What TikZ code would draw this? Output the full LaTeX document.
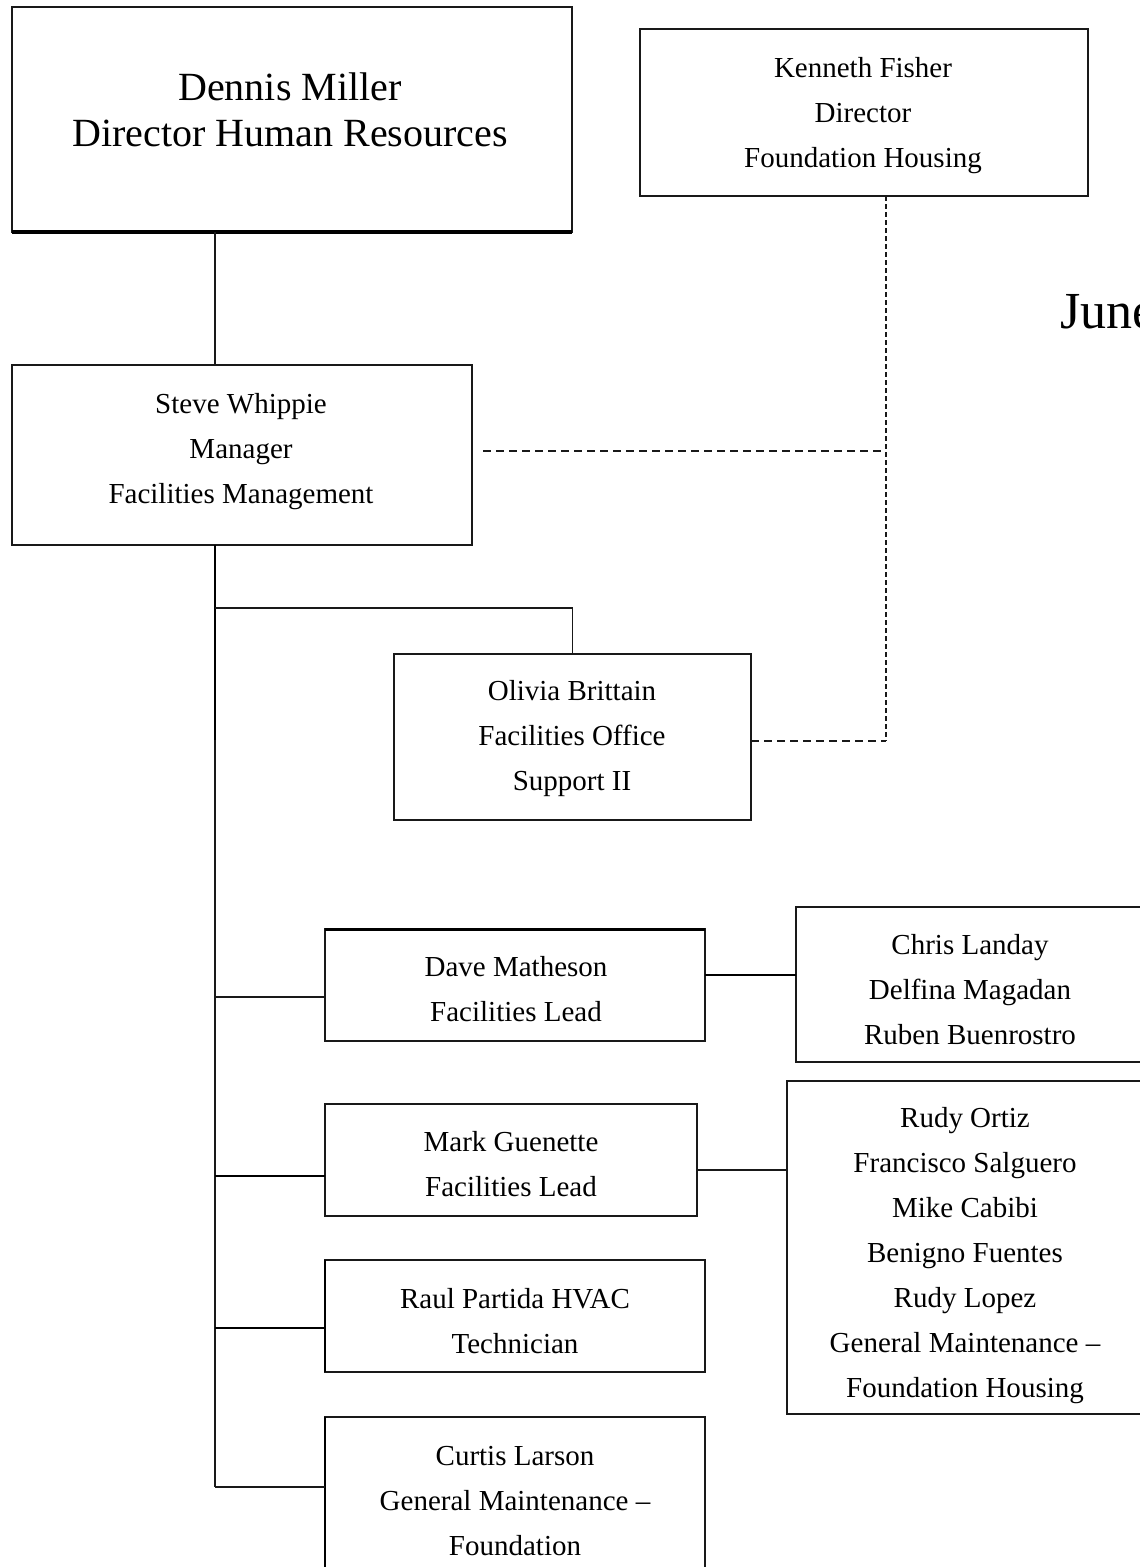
\documentclass[tikz,border=0pt]{standalone}
\usepackage{fontspec}
\setmainfont{Liberation Serif}
\usetikzlibrary{calc}

\tikzset{
  box/.style={rectangle, draw=black!90, line width=1.6bp, inner sep=0pt, outer sep=0pt, fill=white},
  lbl/.style={align=center, inner sep=0pt, font=\fontsize{29bp}{45bp}\selectfont},
  biglbl/.style={align=center, inner sep=0pt, font=\fontsize{40bp}{46bp}\selectfont},
  link/.style={line width=1.6bp, draw=black!90},
  heavylink/.style={line width=2.8bp, draw=black},
  hdash/.style={line width=1.6bp, draw=black!90, dash pattern=on 8bp off 5bp},
  vdash/.style={line width=2.4bp, draw=black!90, dash pattern=on 5bp off 3bp},
}

\begin{document}
\begin{tikzpicture}[x=1bp,y=-1bp]
\useasboundingbox (0,0) rectangle (1139,1567);
\fill[white] (0,0) rectangle (1139,1567);

% reference columns for the trunk line and the dotted-line report
\coordinate (tx) at (215,0);
\coordinate (dx) at (886,0);
\coordinate (oy) at (0,608);
\coordinate (ty) at (0,740);

% boxes
\node[box, minimum width=560bp, minimum height=225bp] (dm) at (292,119.5) {};
\node[box, minimum width=448bp, minimum height=167bp] (kf) at (864,112.5) {};
\node[box, minimum width=460bp, minimum height=180bp] (sw) at (242,455) {};
\node[box, minimum width=357bp, minimum height=166bp] (ob) at (572.5,737) {};
\node[box, minimum width=380bp, minimum height=112bp] (dv) at (515,985) {};
\node[box, minimum width=348bp, minimum height=155bp] (cl) at (970,984.5) {};
\node[box, minimum width=372bp, minimum height=112bp] (mg) at (511,1160) {};
\node[box, minimum width=356bp, minimum height=333bp] (ro) at (965,1247.5) {};
\node[box, minimum width=380bp, minimum height=112bp] (rp) at (515,1316) {};
\node[box, minimum width=380bp, minimum height=173bp] (cu) at (515,1503.5) {};

% heavier box edges
\draw[line width=3.4bp] (dm.south west) -- (dm.south east);
\draw[line width=3bp] (dv.north west) -- (dv.north east);
\draw[line width=2.8bp] (rp.north west) -- (rp.south west);
\draw[line width=2.8bp] (cu.north west) -- (cu.south west);

% box texts
\node[biglbl] (dmt) at (290,109.5) {Dennis Miller\\Director Human Resources};
\node[lbl] (kft) at (863,115.5) {Kenneth Fisher\\Director\\Foundation Housing};
\node[lbl] (swt) at (241,451.5) {Steve Whippie\\Manager\\Facilities Management};
\node[lbl] (obt) at (572,739) {Olivia Brittain\\Facilities Office\\Support II};
\node[lbl] (dvt) at (516,989) {Dave Matheson\\Facilities Lead};
\node[lbl] (clt) at (970,990) {Chris Landay\\Delfina Magadan\\Ruben Buenrostro};
\node[lbl] (mgt) at (511,1164) {Mark Guenette\\Facilities Lead};
\node[lbl] (rot) at (965,1255.5) {Rudy Ortiz\\Francisco Salguero\\Mike Cabibi\\Benigno Fuentes\\Rudy Lopez\\General Maintenance --\\Foundation Housing};
\node[lbl] (rpt) at (515,1321) {Raul Partida HVAC\\Technician};
\node[lbl] (cut) at (515,1501) {Curtis Larson\\General Maintenance --\\Foundation};

% date heading, running off the right edge
\node[anchor=base west, inner sep=0pt, font=\fontsize{52bp}{60bp}\selectfont] (june) at (1060,328) {June};

% solid reporting lines
\draw[link] (dm.south -| tx) -- (sw.north -| tx);
\path ([yshift=-12bp]dv.west) coordinate (dj)
      ([yshift=-16bp]mg.west) coordinate (mj)
      ([yshift=-12bp]rp.west) coordinate (rj)
      ([yshift=-70bp]cu.north west) coordinate (cj);
\draw[heavylink] (sw.south -| tx) -- (ty -| tx);
\draw[link, line width=2bp] (ty -| tx) -- (cj -| tx);
\draw[link] (ob.north) |- (oy -| tx);
\draw[link] (dj) -- (dj -| tx);
\draw[heavylink] (mj) -- (mj -| tx);
\draw[heavylink] (rj) -- (rj -| tx);
\draw[link] (cj) -- (cj -| tx);
\path ([yshift=10bp]dv.east) coordinate (dr)
      ([yshift=-10bp]mg.east) coordinate (mr);
\draw[heavylink] (dr) -- (dr -| cl.west);
\draw[link] (mr) -- (mr -| ro.west);

% dotted-line reporting to Foundation Housing
\path ([yshift=-4bp]ob.east) coordinate (oe)
      ([xshift=11bp,yshift=4bp]sw.east) coordinate (se);
\draw[vdash] (kf.south -| dx) -- (oe -| dx);
\draw[hdash] (oe) -- (oe -| dx);
\draw[hdash] (se) -- ([xshift=-5bp]se -| dx);
\end{tikzpicture}
\end{document}
